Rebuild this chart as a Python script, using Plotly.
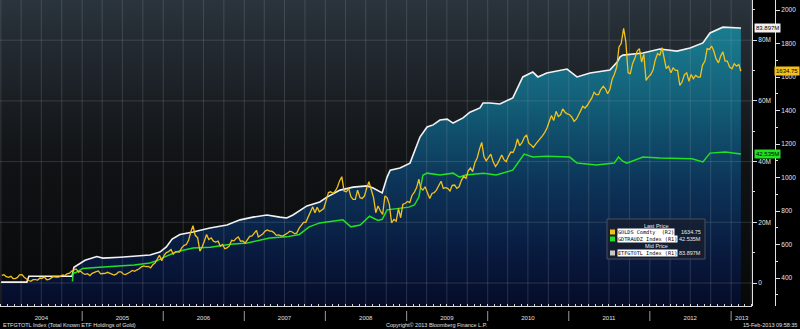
import plotly.graph_objects as go
import pandas as pd

# ---------------- DATA ----------------
# Total known ETF holdings of gold (R1, million oz)
etf_dates = ["2004-01-02", "2004-04-27", "2004-05-06", "2004-11-16", "2004-11-25", "2005-01-14",
             "2005-03-08", "2005-04-04", "2005-06-20", "2005-09-18", "2005-11-02", "2005-12-17",
             "2006-01-15", "2006-02-10", "2006-03-17", "2006-05-15", "2006-07-30", "2006-10-15",
             "2006-12-13", "2007-02-09", "2007-04-13", "2007-06-10", "2007-07-11", "2007-08-08",
             "2007-10-10", "2007-12-07", "2008-01-08", "2008-03-07", "2008-05-05", "2008-07-07",
             "2008-08-03", "2008-09-13", "2008-10-05", "2008-10-19", "2008-12-02", "2009-01-16",
             "2009-02-17", "2009-03-02", "2009-04-03", "2009-04-30", "2009-05-31", "2009-07-02",
             "2009-07-29", "2009-09-12", "2009-10-13", "2009-11-27", "2009-12-11", "2010-01-11",
             "2010-02-25", "2010-04-24", "2010-06-08", "2010-07-23", "2010-08-15", "2010-09-24",
             "2010-12-24", "2011-02-07", "2011-04-07", "2011-07-05", "2011-08-07", "2011-08-20",
             "2011-09-02", "2011-12-01", "2012-02-15", "2012-05-02", "2012-06-30", "2012-08-27",
             "2012-09-28", "2012-11-25", "2013-02-10", "2013-02-14"]
etf_values = [0.3, 0.3, 2.2, 2.2, 5.2, 7.5,
              8.7, 8.2, 8.5, 8.9, 9.2, 10.2,
              11.9, 14.5, 16.0, 16.8, 18.1, 19.1,
              20.8, 21.7, 22.4, 21.7, 21.4, 22.4,
              25.4, 26.7, 28.3, 30.6, 31.6, 32.0,
              31.3, 29.7, 34.9, 37.2, 37.9, 39.5,
              46.1, 48.1, 51.4, 52.1, 53.7, 54.0,
              52.7, 54.4, 56.3, 57.7, 59.3, 59.3,
              59.0, 61.0, 67.9, 69.5, 67.9, 69.2,
              70.5, 67.9, 69.2, 70.2, 72.8, 74.5,
              75.1, 75.8, 77.1, 76.4, 77.4, 79.1,
              82.4, 84.3, 84.0, 83.897]

# GDTRAUDZ Index (R1, million oz)
gld_dates = ["2004-11-18", "2004-11-22", "2004-11-30", "2005-01-04", "2005-03-20", "2005-06-20",
             "2005-08-23", "2005-11-02", "2005-12-03", "2006-01-08", "2006-03-03", "2006-05-15",
             "2006-08-01", "2006-11-01", "2007-01-15", "2007-04-25", "2007-07-10", "2007-09-06",
             "2007-10-20", "2007-12-07", "2008-03-20", "2008-04-25", "2008-06-06", "2008-07-18",
             "2008-08-25", "2008-09-13", "2008-10-05", "2009-01-11", "2009-02-05", "2009-02-25",
             "2009-03-15", "2009-04-03", "2009-05-31", "2009-07-29", "2009-08-27", "2009-09-24",
             "2009-12-14", "2010-02-08", "2010-04-24", "2010-06-14", "2010-07-23", "2010-09-24",
             "2011-01-05", "2011-02-07", "2011-05-05", "2011-07-25", "2011-08-13", "2011-08-30",
             "2011-09-19", "2011-12-01", "2012-02-15", "2012-07-09", "2012-08-27", "2012-09-28",
             "2012-12-06", "2013-02-14"]
gld_values = [0.5, 3.5, 3.3, 4.8, 5.2, 5.6,
              5.9, 6.6, 7.3, 8.6, 10.3, 11.5,
              11.8, 12.8, 13.2, 14.8, 15.2, 16.0,
              18.5, 19.8, 20.8, 18.5, 19.1, 22.0,
              20.6, 21.0, 24.1, 25.0, 25.7, 28.3,
              35.5, 36.2, 35.6, 36.2, 34.9, 35.6,
              36.2, 35.6, 37.2, 42.5, 41.5, 41.8,
              41.5, 39.5, 38.9, 39.5, 41.5, 40.2,
              39.5, 41.5, 41.2, 40.9, 39.9, 42.8,
              43.2, 42.535]

# GOLDS Comdty (R2, USD/oz) sampled on the 5th, 15th and 25th of each month
gold_2004 = [416, 420, 408, 404, 410, 397, 397, 402, 419, 420, 405, 394, 385, 380, 390, 391, 388, 400,
             398, 407, 390, 392, 401, 409, 406, 405, 410, 418, 415, 425, 429, 442, 448, 454, 435, 441]
gold_2005 = [427, 422, 426, 415, 428, 435, 438, 442, 425, 427, 428, 434, 428, 421, 418, 425, 437, 437,
             424, 421, 426, 436, 445, 440, 449, 455, 467, 472, 468, 470, 461, 479, 489, 509, 536, 503]
gold_2006 = [535, 552, 558, 570, 543, 558, 557, 555, 580, 595, 600, 625, 675, 712, 655, 640, 560, 585,
             620, 660, 630, 640, 620, 615, 620, 590, 600, 575, 580, 590, 625, 622, 636, 645, 620, 622]
gold_2007 = [608, 630, 649, 652, 667, 685, 645, 655, 663, 680, 687, 680, 680, 670, 655, 658, 652, 652,
             659, 669, 680, 675, 665, 668, 698, 712, 732, 733, 760, 787, 825, 790, 822, 795, 803, 815]
gold_2008 = [865, 910, 915, 905, 920, 945, 980, 1005, 920, 915, 935, 885, 870, 870, 925, 880, 875, 890,
             935, 975, 930, 880, 790, 830, 800, 780, 890, 880, 840, 730, 750, 740, 815, 760, 840, 845]
gold_2009 = [857, 850, 893, 913, 940, 990, 938, 925, 945, 905, 875, 905, 910, 925, 950, 978, 935, 940,
             935, 920, 953, 955, 935, 945, 985, 1007, 995, 1040, 1057, 1035, 1092, 1118, 1170, 1210, 1125, 1100]
gold_2010 = [1120, 1140, 1095, 1066, 1085, 1110, 1135, 1107, 1095, 1128, 1152, 1150, 1180, 1230, 1190,
             1210, 1240, 1255, 1205, 1195, 1180, 1200, 1215, 1235, 1250, 1270, 1296, 1335, 1370, 1340,
             1395, 1365, 1375, 1410, 1390, 1380]
gold_2011 = [1375, 1360, 1335, 1350, 1375, 1405, 1425, 1415, 1430, 1455, 1475, 1510, 1495, 1495, 1525,
             1545, 1530, 1500, 1525, 1585, 1615, 1660, 1780, 1800, 1890, 1810, 1625, 1620, 1680, 1710,
             1755, 1770, 1690, 1735, 1580, 1600]
gold_2012 = [1615, 1640, 1700, 1740, 1730, 1775, 1705, 1650, 1665, 1625, 1655, 1640, 1640, 1550, 1570,
             1615, 1625, 1575, 1615, 1590, 1610, 1600, 1600, 1670, 1695, 1770, 1765, 1785, 1755, 1710,
             1685, 1725, 1750, 1695, 1695, 1660]
gold_2013 = [1650, 1680, 1665, 1675, 1634.75]
gold_2013_dates = ["2013-01-05", "2013-01-15", "2013-01-25", "2013-02-05", "2013-02-14"]

year_labels = ["2004", "2005", "2006", "2007", "2008", "2009", "2010", "2011", "2012", "2013"]
r1_ticks = [0, 20, 40, 60, 80]
r1_ticktext = ["0", "20M", "40M", "60M", "80M"]
r2_ticks = [400, 600, 800, 1000, 1200, 1400, 1600, 1800, 2000]

# ---------------- SETUP ----------------
W, H = 800, 329
PLOT_BOTTOM = 306
X_RANGE = ["2003-12-28", "2013-04-05"]
R1_RANGE = [-7.58, 93.25]
R2_RANGE = [233, 2060]

def px(x):
    return x / W

def py(y):
    return (PLOT_BOTTOM - y) / PLOT_BOTTOM

gold_dates = []
for yr in range(2004, 2013):
    for m in range(1, 13):
        for d in (5, 15, 25):
            gold_dates.append(f"{yr}-{m:02d}-{d:02d}")
gold_dates += gold_2013_dates
gold_values = gold_2004 + gold_2005 + gold_2006 + gold_2007 + gold_2008 + gold_2009 + gold_2010 + gold_2011 + gold_2012 + gold_2013

WHITE = "#f2f2f2"
GOLD = "#f2c21b"
GREEN = "#22e022"
FONT = "Liberation Sans"
MONO = "DejaVu Sans Mono"

fig = go.Figure()

# background gradient (plot area)
fig.add_trace(go.Scatter(
    x=[X_RANGE[0], X_RANGE[1], X_RANGE[1], X_RANGE[0], X_RANGE[0]],
    y=[R1_RANGE[0], R1_RANGE[0], R1_RANGE[1], R1_RANGE[1], R1_RANGE[0]],
    mode="lines", line=dict(width=0), fill="toself",
    fillgradient=dict(type="vertical", start=R1_RANGE[0], stop=R1_RANGE[1],
                      colorscale=[[0, "rgb(8,8,8)"], [0.45, "rgb(16,18,20)"],
                                  [0.7, "rgb(27,32,37)"], [1, "rgb(42,52,60)"]]),
    hoverinfo="skip", showlegend=False))

# baseline for the ETF area fill
fig.add_trace(go.Scatter(x=[etf_dates[0], etf_dates[-1]], y=[R1_RANGE[0], R1_RANGE[0]],
                         mode="lines", line=dict(width=0), hoverinfo="skip", showlegend=False))
fig.add_trace(go.Scatter(
    x=etf_dates, y=etf_values, mode="lines", line=dict(width=0), fill="tonexty",
    fillgradient=dict(type="vertical", start=R1_RANGE[0], stop=R1_RANGE[1],
                      colorscale=[[0, "rgb(5,12,40)"], [0.15, "rgb(8,24,60)"], [0.4, "rgb(12,52,88)"],
                                  [0.65, "rgb(18,92,118)"], [0.85, "rgb(24,118,138)"], [1, "rgb(28,132,148)"]]),
    hoverinfo="skip", showlegend=False))

# gridlines (quarterly vertical, R1 major horizontal)
qdates = pd.date_range("2004-01-01", X_RANGE[1], freq="QS")
gx, gy = [], []
for d in qdates:
    gx += [d, d, None]
    gy += [R1_RANGE[0], R1_RANGE[1], None]
for t in r1_ticks:
    gx += [X_RANGE[0], X_RANGE[1], None]
    gy += [t, t, None]
fig.add_trace(go.Scatter(x=gx, y=gy, mode="lines", line=dict(color="rgba(150,160,170,0.24)", width=1),
                         hoverinfo="skip", showlegend=False))

# series
fig.add_trace(go.Scatter(x=etf_dates, y=etf_values, mode="lines", line=dict(color=WHITE, width=1.6),
                         showlegend=False, yaxis="y"))
fig.add_trace(go.Scatter(x=gld_dates, y=gld_values, mode="lines", line=dict(color=GREEN, width=1.5),
                         showlegend=False, yaxis="y"))
fig.add_trace(go.Scatter(x=gold_dates, y=gold_values, mode="lines", line=dict(color=GOLD, width=1.3),
                         showlegend=False, yaxis="y2"))

year_centers = [f"{y}-07-01" for y in range(2004, 2013)] + ["2013-02-18"]

fig.update_layout(
    template="none",
    width=W, height=H,
    margin=dict(l=0, r=0, t=0, b=H - PLOT_BOTTOM),
    paper_bgcolor="black", plot_bgcolor="black",
    font=dict(family=FONT, size=8, color="#e6e6e6"),
    showlegend=False,
    xaxis=dict(domain=[0, px(752)], range=X_RANGE, type="date", showgrid=False, zeroline=False,
               showline=True, linecolor="#d8d8d8", linewidth=1,
               tickmode="array", tickvals=year_centers, ticktext=year_labels, ticks="",
               ticklabelstandoff=6,
               tickfont=dict(size=6, color="#e0e0e0"),
               minor=dict(tickmode="linear", tick0="2004-01-01", dtick="M1", ticks="inside",
                          ticklen=2, tickcolor="#d8d8d8", showgrid=False),
               automargin=False),
    yaxis=dict(range=R1_RANGE, anchor="free", position=px(752), side="right",
               showgrid=False, zeroline=False, showline=True, linecolor="#e0e0e0", linewidth=1,
               tickmode="array", tickvals=r1_ticks, ticktext=r1_ticktext, ticks="outside",
               ticklen=4, tickcolor="#e0e0e0", tickfont=dict(size=6.5, color="#e6e6e6"),
               minor=dict(tickmode="linear", tick0=0, dtick=10, ticks="outside", ticklen=2,
                          tickcolor="#e0e0e0", showgrid=False),
               automargin=False),
    yaxis2=dict(range=R2_RANGE, anchor="free", position=px(775), side="right", overlaying="y",
                showgrid=False, zeroline=False, showline=True, linecolor="#e0e0e0", linewidth=1,
                tickmode="array", tickvals=r2_ticks, ticks="outside",
                ticklen=4, tickcolor="#e0e0e0", tickfont=dict(size=6.5, color="#e6e6e6"),
                minor=dict(tickmode="linear", tick0=0, dtick=100, ticks="outside", ticklen=2,
                           tickcolor="#e0e0e0", showgrid=False),
                automargin=False),
)

shapes = []
# year separators below axis
for y in range(2005, 2014):
    shapes.append(dict(type="line", xref="x", yref="paper", x0=f"{y}-01-01", x1=f"{y}-01-01",
                       y0=py(311), y1=py(321), line=dict(color="#9a9a9a", width=1)))

# legend box
shapes.append(dict(type="rect", xref="paper", yref="paper", x0=px(607), x1=px(705), y0=py(259), y1=py(219),
                   fillcolor="rgba(22,30,48,0.85)", line=dict(color="#4a5060", width=1)))
LEG_FONT = 5.2
legend_rows = [(232, GOLD, "GOLDS Comdty  (R2)", "1634.75"),
               (239, GREEN, "GDTRAUDZ Index (R1)", "42.535M"),
               (253, "#c8c8c8", "ETFGTOTL Index (R1)", "83.897M")]
annotations = []
for yy, col, name, val in legend_rows:
    shapes.append(dict(type="rect", xref="paper", yref="paper", x0=px(610), x1=px(615),
                       y0=py(yy + 2.5), y1=py(yy - 2.5), fillcolor=col, line=dict(width=0)))
    annotations.append(dict(x=px(617), y=py(yy), xref="paper", yref="paper", text=name,
                            xanchor="left", yanchor="middle", showarrow=False, bgcolor="#ffffff",
                            borderpad=0, font=dict(size=LEG_FONT, color="#000000", family=MONO)))
    annotations.append(dict(x=px(703), y=py(yy), xref="paper", yref="paper", text=val,
                            xanchor="right", yanchor="middle", showarrow=False,
                            font=dict(size=5.5, color="#e8e8e8", family=FONT)))
for yy, txt in [(226, "Last Price"), (246, "Mid Price")]:
    annotations.append(dict(x=px(656), y=py(yy), xref="paper", yref="paper", text=txt,
                            xanchor="center", yanchor="middle", showarrow=False,
                            font=dict(size=5.5, color="#e8e8e8", family=FONT)))

# last value tags on the axes
TAG_FONT = 6
annotations.append(dict(x=px(754), y=etf_values[-1], xref="paper", yref="y", text="83.897M",
                        xanchor="left", yanchor="middle", showarrow=False, bgcolor="#f0f0f0",
                        borderpad=1, font=dict(size=TAG_FONT, color="#000000", family=FONT)))
annotations.append(dict(x=px(754), y=gld_values[-1], xref="paper", yref="y", text="42.535M",
                        xanchor="left", yanchor="middle", showarrow=False, bgcolor=GREEN,
                        borderpad=1, font=dict(size=TAG_FONT, color="#000000", family=FONT)))
annotations.append(dict(x=px(800), y=gold_values[-1], xref="paper", yref="y2", text="1634.75",
                        xanchor="right", yanchor="middle", showarrow=False, bgcolor=GOLD,
                        borderpad=1, font=dict(size=TAG_FONT, color="#000000", family=FONT)))

# footer texts
FOOT = 5.5
annotations.append(dict(x=px(1), y=py(325), xref="paper", yref="paper",
                        text="ETFGTOTL Index (Total Known ETF Holdings of Gold)", xanchor="left",
                        yanchor="middle", showarrow=False, font=dict(size=FOOT, color="#e0e0e0", family=FONT)))
annotations.append(dict(x=px(437), y=py(325), xref="paper", yref="paper",
                        text="Copyright© 2013 Bloomberg Finance L.P.", xanchor="center",
                        yanchor="middle", showarrow=False, font=dict(size=FOOT, color="#e0e0e0", family=FONT)))
annotations.append(dict(x=px(799), y=py(325), xref="paper", yref="paper",
                        text="15-Feb-2013 09:58:35", xanchor="right",
                        yanchor="middle", showarrow=False, font=dict(size=FOOT, color="#e0e0e0", family=FONT)))

fig.update_layout(shapes=shapes, annotations=annotations)
fig.write_html("out.html")
